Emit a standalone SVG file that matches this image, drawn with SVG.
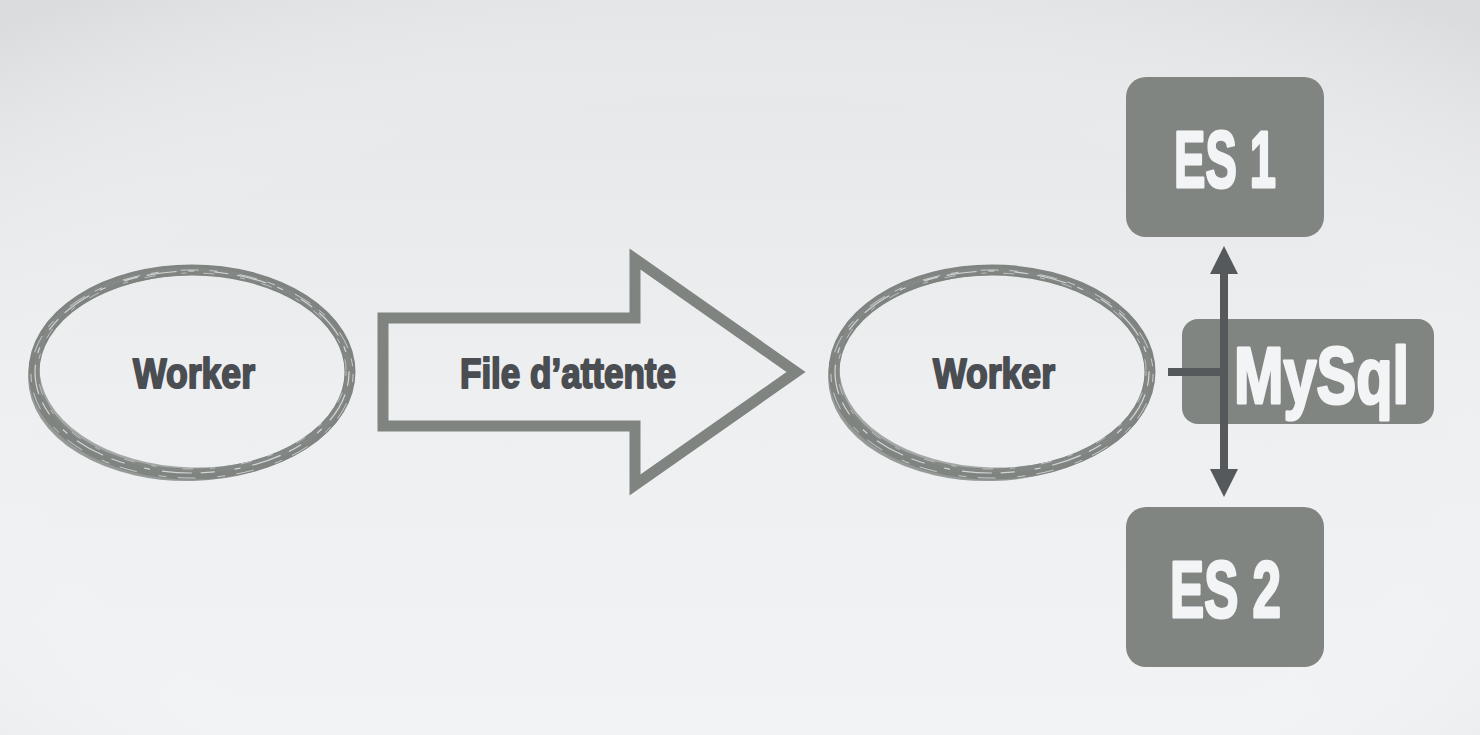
<svg xmlns="http://www.w3.org/2000/svg" width="1480" height="735" viewBox="0 0 1480 735">
<defs>
<linearGradient id="bg" x1="0" y1="0" x2="0" y2="1">
<stop offset="0" stop-color="#e5e6e8"/>
<stop offset="0.55" stop-color="#eeeff1"/>
<stop offset="1" stop-color="#f2f3f5"/>
</linearGradient>
<radialGradient id="vig" cx="0.5" cy="0.6" r="0.75">
<stop offset="0.6" stop-color="#ffffff" stop-opacity="0"/>
<stop offset="1" stop-color="#c8c9cc" stop-opacity="0.35"/>
</radialGradient>
<marker id="head" markerUnits="userSpaceOnUse" markerWidth="28" markerHeight="28" refX="0" refY="14" orient="auto-start-reverse">
<path d="M0,0 L28,14 L0,28 Z" fill="#55595b"/>
</marker>
<g id="brush">
<ellipse cx="0" cy="1" rx="158" ry="102" fill="none" stroke="#7f8481" stroke-width="11"/>
<ellipse cx="-1" cy="4" rx="160" ry="103" fill="none" stroke="#7f8481" stroke-width="6" stroke-opacity="0.8" transform="rotate(-1.5)"/>
<ellipse cx="1" cy="-1" rx="156" ry="100" fill="none" stroke="#858a87" stroke-width="5" stroke-opacity="0.7" transform="rotate(1.5)"/>
<ellipse cx="0" cy="1" rx="157" ry="101" fill="none" stroke="#e6e8ea" stroke-width="1.2" stroke-dasharray="14 9 30 12 6 20" stroke-opacity="0.8"/>
<ellipse cx="0" cy="3" rx="161" ry="104" fill="none" stroke="#e6e8ea" stroke-width="1" stroke-dasharray="8 22 18 11" stroke-opacity="0.7"/>
<ellipse cx="0" cy="0" rx="154" ry="98" fill="none" stroke="#e6e8ea" stroke-width="1" stroke-dasharray="5 17 11 26" stroke-opacity="0.6"/>
</g>
</defs>
<style>
.dark{font-family:"Liberation Sans","DejaVu Sans",sans-serif;font-weight:bold;fill:#4a4d51;stroke:#4a4d51;stroke-width:2;stroke-linejoin:round}
.light{font-family:"Liberation Sans","DejaVu Sans",sans-serif;font-weight:bold;fill:#f3f4f6;stroke:#f3f4f6;stroke-width:3;stroke-linejoin:round}
.box{fill:#808582}
.conn{stroke:#55595b;fill:none}
</style>
<rect width="1480" height="735" fill="url(#bg)"/>
<rect width="1480" height="735" fill="url(#vig)"/>

<g id="worker1">
<use href="#brush" transform="translate(192,371)"/>
<text class="dark" x="133" y="388" font-size="43" textLength="122" lengthAdjust="spacingAndGlyphs">Worker</text>
</g>

<g id="queue">
<path d="M383,318 L635,318 L635,259 L796,372 L635,485 L635,426 L383,426 Z" fill="none" stroke="#7f8481" stroke-width="11" stroke-linejoin="miter"/>
<text class="dark" x="460" y="388" font-size="43" textLength="216" lengthAdjust="spacingAndGlyphs">File d’attente</text>
</g>

<g id="worker2">
<use href="#brush" transform="translate(992,371)"/>
<text class="dark" x="933" y="388" font-size="43" textLength="122" lengthAdjust="spacingAndGlyphs">Worker</text>
</g>

<g id="es1">
<rect class="box" x="1126" y="77" width="198" height="160" rx="20"/>
<text class="light" x="1174" y="187" font-size="80" textLength="102" lengthAdjust="spacingAndGlyphs">ES 1</text>
</g>

<g id="es2">
<rect class="box" x="1126" y="507" width="198" height="160" rx="20"/>
<text class="light" x="1170" y="617" font-size="80" textLength="111" lengthAdjust="spacingAndGlyphs">ES 2</text>
</g>

<g id="mysql">
<rect class="box" x="1182" y="319" width="252" height="105" rx="16"/>
</g>

<g id="connectors">
<line class="conn" x1="1168" y1="372" x2="1224" y2="372" stroke-width="8"/>
<line class="conn" x1="1224" y1="274" x2="1224" y2="469" stroke-width="8" marker-start="url(#head)" marker-end="url(#head)"/>
</g>

<g id="mysql-label">
<text class="light" x="1234" y="403" font-size="80" textLength="175" lengthAdjust="spacingAndGlyphs">MySql</text>
</g>
</svg>
